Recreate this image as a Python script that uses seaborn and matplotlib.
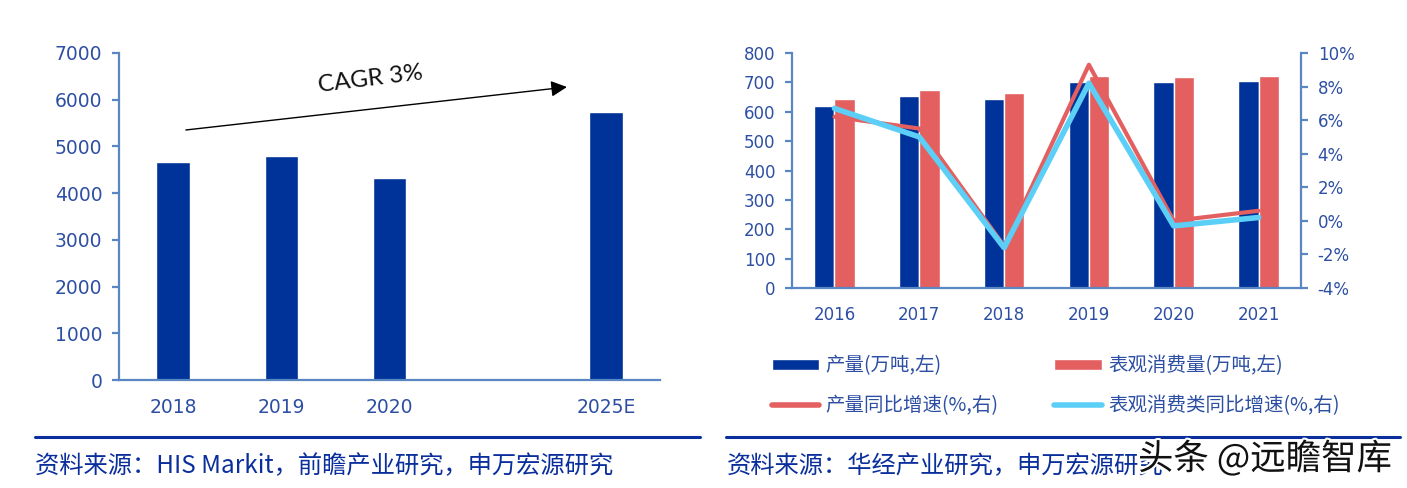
import matplotlib
matplotlib.use("Agg")
import matplotlib.pyplot as plt
import matplotlib.patheffects as pe
from matplotlib.patches import Patch
from matplotlib.lines import Line2D
import seaborn as sns
import pandas as pd
import numpy as np

# ---------------- data ----------------
left_categories = ["2018", "2019", "2020", " ", "2025E"]
left_values = [4660, 4790, 4330, np.nan, 5730]
cagr_label = "CAGR 3%"

right_years = ["2016", "2017", "2018", "2019", "2020", "2021"]
production = [618, 653, 643, 701, 701, 704]
apparent_consumption = [643, 673, 665, 721, 718, 721]
production_yoy = [6.2, 5.5, -1.5, 9.3, 0.0, 0.6]
consumption_yoy = [6.7, 5.0, -1.6, 8.2, -0.3, 0.2]
legend_labels = ["产量(万吨,左)", "表观消费量(万吨,左)",
                 "产量同比增速(%,右)", "表观消费类同比增速(%,右)"]
source_left = "资料来源：HIS Markit，前瞻产业研究，申万宏源研究"
source_right = "资料来源：华经产业研究，申万宏源研究"
watermark = "头条 @远瞻智库"

# ---------------- style ----------------
sns.set_theme(style="white")
plt.rcParams['font.family'] = ['DejaVu Sans', 'Noto Sans CJK SC']
CJK = ['Noto Sans CJK SC', 'DejaVu Sans']

NAVY = "#003399"
RED = "#E45F5F"
CYAN = "#5CCFF7"
TICK = "#2D4FA3"
SPINE = "#5A86C3"
SRC = "#0A2F9C"

W, H = 1407, 488
fig = plt.figure(figsize=(W / 100, H / 100), dpi=100)


def fx(px):
    return px / W


def fy(py):
    return 1 - py / H


def style_axis(ax, n, fs):
    for s in ["top", "right"]:
        ax.spines[s].set_visible(False)
    for s in ["left", "bottom"]:
        ax.spines[s].set_color(SPINE)
        ax.spines[s].set_linewidth(1.6)
    ax.set_xlim(-0.5, n - 0.5)
    ax.set_xticks(np.arange(n))
    ax.set_xticks(np.arange(n + 1) - 0.5, minor=True)
    ax.tick_params(axis="x", which="major", length=0, pad=13,
                   labelsize=fs, labelcolor=TICK)
    ax.tick_params(axis="x", which="minor", length=5, width=1.6,
                   color=SPINE, direction="out")
    ax.tick_params(axis="y", length=5, width=1.6, color=SPINE, pad=7,
                   labelsize=fs, labelcolor=TICK, left=True)
    ax.set_xlabel("")
    ax.set_ylabel("")
    ax.grid(False)


# ---------------- left chart ----------------
axL = fig.add_axes([fx(119), fy(380), fx(660 - 119), (380 - 53) / H])
dfL = pd.DataFrame({"cat": left_categories, "val": left_values})
sns.barplot(data=dfL, x="cat", y="val", order=left_categories, color=NAVY,
            saturation=1, width=0.31, ax=axL)
axL.set_ylim(0, 7000)
axL.set_yticks(np.arange(0, 7001, 1000))
style_axis(axL, len(left_categories), 13.5)
axL.set_xticklabels(left_categories)

axL.annotate("", xy=(3.64, 6272), xytext=(0.118, 5352),
             arrowprops=dict(arrowstyle="-|>", color="black", lw=1.0,
                             mutation_scale=24, shrinkA=0, shrinkB=0))
axL.text(1.82, 6440, cagr_label, rotation=7, ha="center", va="center",
         fontsize=17.5, color="#111111", family=['Lato', 'DejaVu Sans'])

# ---------------- right chart ----------------
axR = fig.add_axes([fx(792), fy(288), fx(1301 - 792), (288 - 53) / H])
dfR = pd.DataFrame({
    "year": right_years * 2,
    "value": production + apparent_consumption,
    "series": [legend_labels[0]] * len(right_years) + [legend_labels[1]] * len(right_years),
})
sns.barplot(data=dfR, x="year", y="value", hue="series",
            palette=[NAVY, RED], saturation=1, width=0.48, ax=axR, legend=False)
axR.set_ylim(0, 800)
axR.set_yticks(np.arange(0, 801, 100))
style_axis(axR, len(right_years), 12)

ax2 = axR.twinx()
xpos = np.arange(len(right_years))
sns.lineplot(x=xpos, y=production_yoy, ax=ax2, color=RED, lw=3)
sns.lineplot(x=xpos, y=consumption_yoy, ax=ax2, color=CYAN, lw=4)
ax2.set_ylim(-4, 10)
ax2.set_yticks(np.arange(-4, 11, 2))
ax2.set_yticklabels([f"{v}%" for v in range(-4, 11, 2)])
ax2.set_xlim(-0.5, len(right_years) - 0.5)
for s in ["top", "left", "bottom"]:
    ax2.spines[s].set_visible(False)
ax2.spines["right"].set_color(SPINE)
ax2.spines["right"].set_linewidth(1.6)
ax2.tick_params(axis="y", length=5, width=1.6, color=SPINE, pad=7,
                labelsize=12, labelcolor=TICK, right=True)
ax2.set_ylabel("")
ax2.grid(False)

handles = [Patch(facecolor=NAVY), Line2D([], [], color=RED, lw=4),
           Patch(facecolor=RED), Line2D([], [], color=CYAN, lw=4)]
labels = [legend_labels[0], legend_labels[2], legend_labels[1], legend_labels[3]]
fig.legend(handles, labels, ncol=2, loc="upper left",
           bbox_to_anchor=(fx(754), fy(338)), frameon=False,
           prop={"family": CJK, "size": 14}, labelcolor=TICK,
           handlelength=2.45, handleheight=0.55, handletextpad=0.3,
           labelspacing=0.95, columnspacing=2.9)

# ---------------- footer ----------------
fig.add_artist(Line2D([fx(35), fx(700)], [fy(437), fy(437)], color=SRC, lw=2.2))
fig.add_artist(Line2D([fx(726), fx(1400)], [fy(437), fy(437)], color=SRC, lw=2.2))
fig.text(fx(35), fy(466), source_left, va="center", ha="left",
         fontsize=17.5, color=SRC, family=CJK)
fig.text(fx(727), fy(466), source_right, va="center", ha="left",
         fontsize=17.5, color=SRC, family=CJK)
fig.text(fx(1138), fy(459), watermark, va="center", ha="left",
         fontsize=25.5, color="#111111", family=CJK,
         path_effects=[pe.withStroke(linewidth=3, foreground="white")])

fig.savefig("out.png", dpi=100)
